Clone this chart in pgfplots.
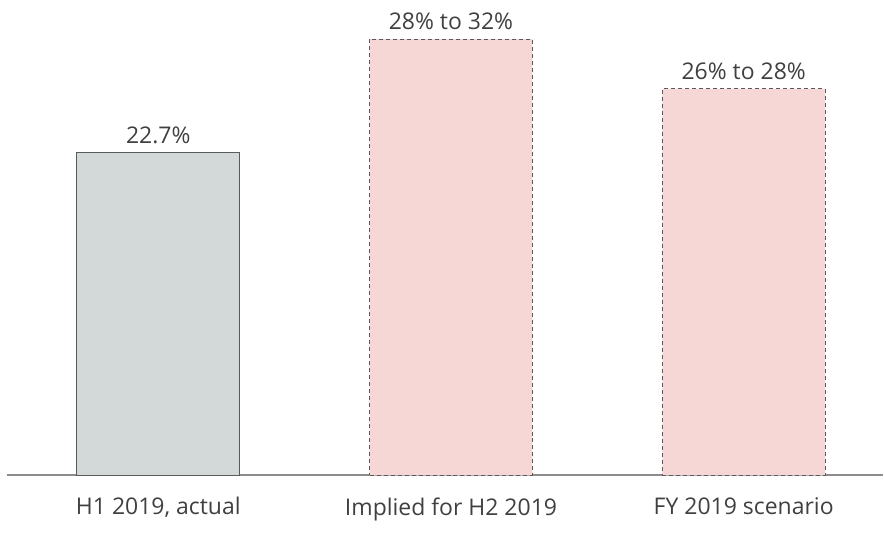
\documentclass[border=0pt]{standalone}
\usepackage{pgfplots}
\pgfplotsset{compat=1.18}
\usepackage{fontspec}
\setmainfont{Open Sans}
\definecolor{barGray}{HTML}{D3D8D8}
\definecolor{barPink}{HTML}{F7D6D6}
\definecolor{edgeGray}{HTML}{5A5A5A}
\definecolor{axisGray}{HTML}{8C8C8C}
\definecolor{txt}{HTML}{404040}
\begin{document}
\begin{tikzpicture}
  \begin{axis}[
      scale only axis,
      width=438.5pt,
      height=238pt,
      xmin=-0.517, xmax=2.476,
      ymin=0, ymax=33.45,
      axis y line=none,
      axis x line*=bottom,
      axis line style={axisGray, line width=1pt, -},
      xtick={0,1,2},
      xticklabels={{H1 2019, actual}, {Implied for H2 2019}, {FY 2019 scenario}},
      major tick length=0pt,
      x tick label style={font=\fontsize{11.5}{14}\selectfont, text=txt, yshift=-7.5pt},
      ybar, bar width=81.5pt,
      clip=false,
      nodes near coords,
      point meta=explicit symbolic,
      every node near coord/.append style={font=\fontsize{11.5}{14}\selectfont, text=txt, yshift=1pt},
    ]
    % actual
    \addplot[bar shift=0pt, fill=barGray, draw=edgeGray, line width=0.5pt]
      coordinates {(0,22.7) [22.7\%]};
    % scenarios
    \addplot[bar shift=0pt, fill=barPink, draw=edgeGray, line width=0.5pt, dash pattern=on 2pt off 1.5pt]
      coordinates {(1,30.7) [28\% to 32\%] (2,27.2) [26\% to 28\%]};
    \path (rel axis cs:0,0) ++(-3.5pt,-34.5pt) (rel axis cs:1,1);
  \end{axis}
\end{tikzpicture}
\end{document}
